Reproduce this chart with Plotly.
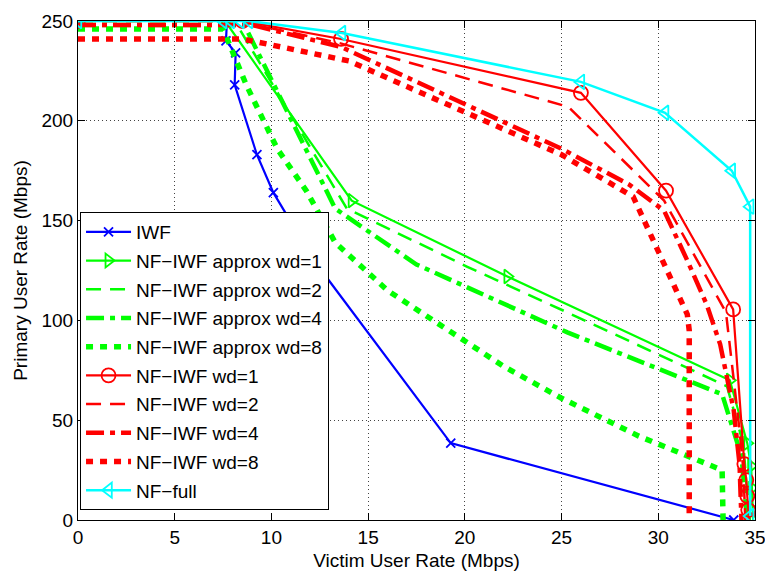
import plotly.graph_objects as go

# ---- data (Victim rate x [Mbps], Primary rate y [Mbps]) ----
iwf_x = [0, 7.7, 7.65, 8.15, 8.1, 9.25, 10.1, 12.2, 19.27, 33.9]
iwf_y = [250, 250, 240, 234, 218, 183, 164, 130, 38.5, 0]

ap1_x = [0, 7.6, 14.15, 22.2, 33.7, 34.6, 34.8, 34.85, 34.9, 34.9]
ap1_y = [250, 250, 160, 122, 70, 38.5, 27, 16, 5, 0]

ap2_x = [0, 8.1, 13.9, 20.1, 25.3, 33.55, 34.4, 34.7]
ap2_y = [250, 250, 156, 127, 104, 67, 38, 0]

ap4_x = [0, 8.6, 13.3, 17.5, 25.3, 33.3, 34.3, 34.6]
ap4_y = [248, 248, 156, 128, 94, 63, 32, 0]

ap8_x = [0, 7.5, 8.7, 10.3, 11.8, 13.3, 16.0, 19.2, 22.0, 25.0, 29.0, 33.3, 33.35]
ap8_y = [246, 246, 218, 186, 165, 139, 115, 95, 77, 61, 42, 25, 0]

wd1_x = [0, 8.5, 13.6, 26.0, 30.4, 33.87, 34.45, 34.55, 34.6, 34.65, 34.7]
wd1_y = [250, 250, 241, 214, 165, 105.5, 28, 20, 12, 5, 0]

wd2_x = [0, 8.3, 13.5, 25.35, 30.3, 33.5, 34.2, 34.4, 34.5]
wd2_y = [250, 250, 239, 207, 160, 104, 45, 25, 0]

wd4_x = [0, 9.0, 13.6, 19.2, 25.0, 28.5, 30.3, 31.5, 32.5, 33.2, 33.9, 34.2, 34.3]
wd4_y = [248, 248, 237, 212, 186, 168, 155, 130, 108, 88, 55, 28, 0]

wd8_x = [0, 8.5, 14.0, 19.2, 25.0, 28.7, 31.5, 31.6, 31.6]
wd8_y = [241, 241, 230, 208, 183, 162, 103, 95, 0]

full_x = [0, 7.5, 7.9, 8.4, 8.84, 13.65, 26.0, 30.35, 33.8, 34.75, 34.75]
full_y = [250, 250, 250, 250, 250, 244, 219.5, 204, 175, 157, 2]

x_ticks = [0, 5, 10, 15, 20, 25, 30, 35]
y_ticks = [0, 50, 100, 150, 200, 250]

BLUE, GREEN, RED, CYAN = "#0000ff", "#00ff00", "#ff0000", "#00ffff"

fig = go.Figure()

def add(x, y, name, color, width, dash="solid", symbol=None, msize=11):
    mode = "lines+markers" if symbol else "lines"
    marker = None
    if symbol:
        marker = dict(symbol=symbol, size=msize, color=color,
                      line=dict(color=color, width=1.8))
    fig.add_trace(go.Scatter(x=x, y=y, name=name, mode=mode,
                             line=dict(color=color, width=width, dash=dash),
                             marker=marker, legendgroup=name))

add(iwf_x, iwf_y, "IWF", BLUE, 2.2, symbol="x-thin", msize=9)
add(ap1_x, ap1_y, "NF−IWF approx wd=1", GREEN, 2.2, symbol="triangle-right-open", msize=12)
add(ap2_x, ap2_y, "NF−IWF approx wd=2", GREEN, 2.5, dash="15px,9px")
add(ap4_x, ap4_y, "NF−IWF approx wd=4", GREEN, 4.5, dash="18px,6px,5px,6px")
add(ap8_x, ap8_y, "NF−IWF approx wd=8", GREEN, 5.5, dash="7px,7px")
add(wd1_x, wd1_y, "NF−IWF wd=1", RED, 2.2, symbol="circle-open", msize=14)
add(wd2_x, wd2_y, "NF−IWF wd=2", RED, 2.5, dash="15px,9px")
add(wd4_x, wd4_y, "NF−IWF wd=4", RED, 4.5, dash="18px,6px,5px,6px")
add(wd8_x, wd8_y, "NF−IWF wd=8", RED, 5.5, dash="7px,7px")
add(full_x, full_y, "NF−full", CYAN, 2.5, symbol="triangle-left-open", msize=13)

axis_common = dict(
    showline=True, linecolor="black", linewidth=1, mirror="ticks",
    ticks="inside", ticklen=7, tickcolor="black",
    showgrid=True, gridcolor="#444444", gridwidth=1, griddash="1px,3px",
    zeroline=False, tickfont=dict(size=19, color="black"), automargin=False,
    ticklabeloverflow="allow",
)

fig.update_layout(
    width=765, height=574,
    margin=dict(l=78, r=10, t=21, b=54),
    paper_bgcolor="white", plot_bgcolor="white",
    font=dict(family="Liberation Sans, Arial, sans-serif", size=19, color="black"),
    xaxis=dict(range=[0, 35], tickvals=x_ticks, ticktext=[str(v) for v in x_ticks],
               title=dict(text="Victim User Rate (Mbps)", font=dict(size=19), standoff=6),
               **axis_common),
    yaxis=dict(range=[0, 250], tickvals=y_ticks, ticktext=[str(v) for v in y_ticks],
               title=dict(text="Primary User Rate (Mbps)", font=dict(size=19), standoff=8),
               **axis_common),
    legend=dict(x=0.003, y=0.02, xanchor="left", yanchor="bottom",
                bgcolor="white", bordercolor="black", borderwidth=1,
                font=dict(size=19), tracegroupgap=1, itemwidth=45),
    showlegend=True,
)

fig.write_html("out.html")
